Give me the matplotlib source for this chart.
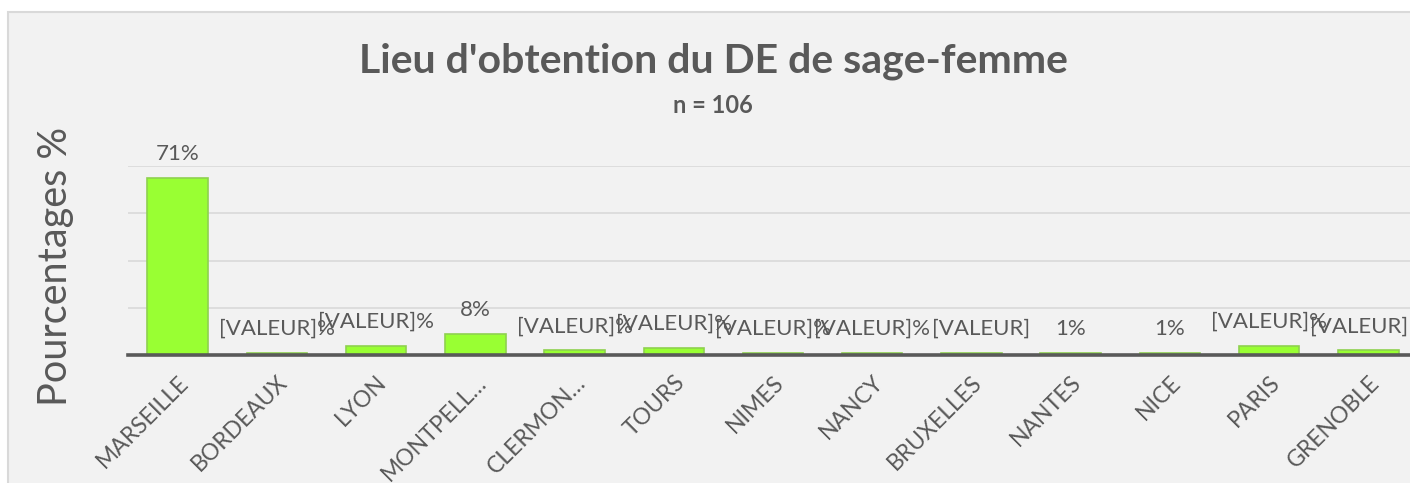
import matplotlib
matplotlib.use("Agg")
import matplotlib.pyplot as plt
from matplotlib.patches import Rectangle

plt.rcParams['font.family'] = ['Lato', 'DejaVu Sans']

categories = ["MARSEILLE", "BORDEAUX", "LYON", "MONTPELL…", "CLERMON…", "TOURS",
              "NIMES", "NANCY", "BRUXELLES", "NANTES", "NICE", "PARIS", "GRENOBLE"]
counts = [75, 1, 4, 9, 2, 3, 1, 1, 1, 1, 1, 4, 2]
labels = ["71%", "[VALEUR]%", "[VALEUR]%", "8%", "[VALEUR]%", "[VALEUR]%",
          "[VALEUR]%", "[VALEUR]%", "[VALEUR]", "1%", "1%", "[VALEUR]%", "[VALEUR]"]

W, H = 1410, 483
fig = plt.figure(figsize=(W / 100, H / 100), dpi=100)
fig.patch.set_facecolor("white")

# chart area background with border
bg = Rectangle((8 / W, -0.1), 1.2, (H - 12) / H + 0.1, transform=fig.transFigure,
               facecolor="#f2f2f2", edgecolor="#d9d9d9", linewidth=1.5, zorder=-10)
fig.patches.append(bg)

ax = fig.add_axes([128 / W, 128 / H, 1290 / W, 189 / H])
ax.set_zorder(1)
ax.set_facecolor("none")
x = list(range(len(categories)))
ax.bar(x, counts, width=0.61, color="#99ff33", edgecolor="#8fd14f", linewidth=1.2, zorder=3)
ax.set_xlim(-0.5, len(categories) - 0.5)
ax.set_ylim(0, 80)
ax.set_yticks([0, 20, 40, 60, 80])
ax.set_yticklabels([])
ax.tick_params(axis='y', length=0)
ax.grid(axis='y', color="#d9d9d9", linewidth=1.2, zorder=0)
ax.set_axisbelow(True)
for s in ["top", "right", "left"]:
    ax.spines[s].set_visible(False)
ax.spines["bottom"].set_color("#595959")
ax.spines["bottom"].set_linewidth(2.6)
ax.spines["bottom"].set_zorder(4)
ax.set_xticks(x)
ax.set_xticklabels(categories, rotation=45, ha="right", rotation_mode="anchor",
                   fontsize=16.5, color="#595959")
ax.tick_params(axis='x', length=0, pad=12)

# data labels; labels that would run past the chart edge are nudged inside
fig.canvas.draw()
renderer = fig.canvas.get_renderer()
for xi, c, lab in zip(x, counts, labels):
    dx = 7 if lab == "[VALEUR]" and xi < len(x) - 1 else 0
    t = ax.annotate(lab, (xi, c), xytext=(dx, 10), textcoords="offset points",
                    ha="center", va="bottom", fontsize=16, color="#595959", zorder=5,
                    annotation_clip=False)
    bb = t.get_window_extent(renderer)
    over = bb.x1 - (W - 2)
    if over > 0:
        t.set_position((dx - over * 72 / 100, 10))

fig.text(713 / W, (H - 73) / H, "Lieu d'obtention du DE de sage-femme", ha="center",
         va="baseline", fontsize=29.5, fontweight="bold", color="#595959")
fig.text(713 / W, (H - 113) / H, "n = 106", ha="center", va="baseline",
         fontsize=17, fontweight="bold", color="#595959")
fig.text(55 / W, (H - 266) / H, "Pourcentages %", rotation=90, ha="center", va="center",
         fontsize=28.5, color="#595959")

fig.savefig("out.png", dpi=100)
